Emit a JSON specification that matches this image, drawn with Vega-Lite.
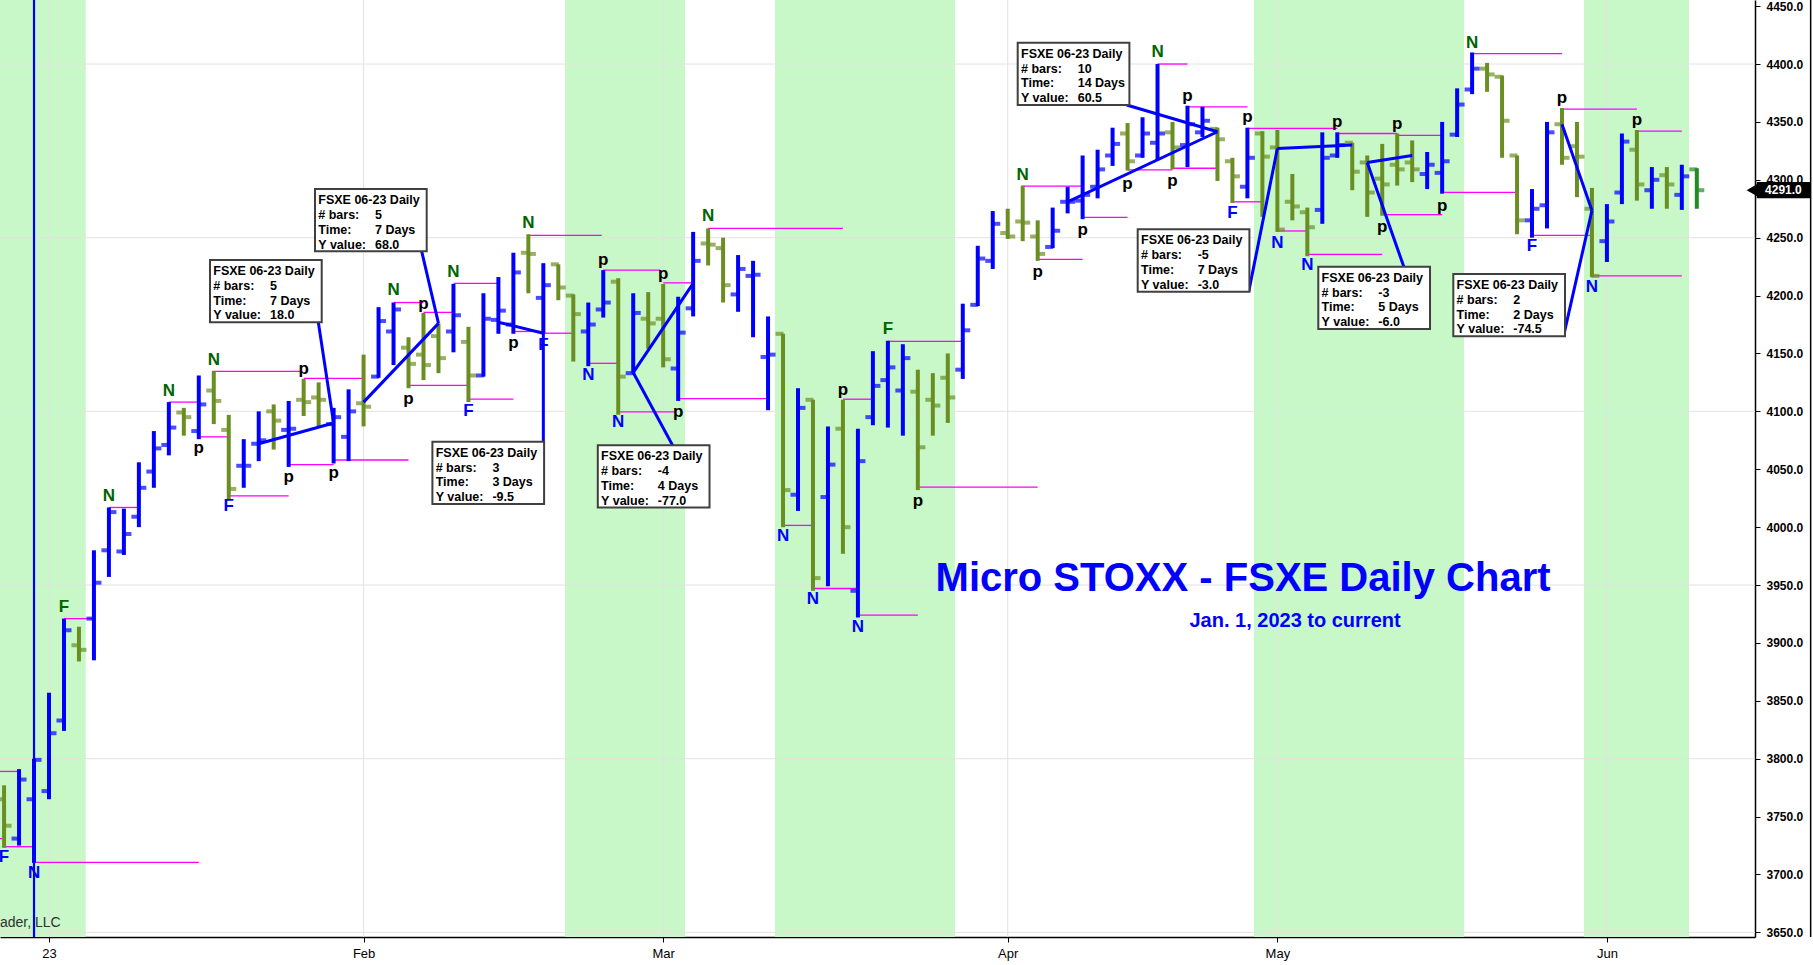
{
"$schema":"https://vega.github.io/schema/vega-lite/v6.json",
"width":1755,"height":937,
"autosize":{"type":"none"},
"padding":{"left":0,"top":0,"right":58,"bottom":28},
"background":"white",
"config":{"view":{"stroke":null},"font":"Liberation Sans",
 "axis":{"grid":false,"domainColor":"#000000","domainWidth":1.5,"tickColor":"#000000","tickSize":5,"labelFont":"Liberation Sans","labelColor":"#000000","labelFlush":false,"labelOverlap":false},
 "axisX":{"labelFontSize":13,"labelPadding":5},
 "axisY":{"labelFontSize":12,"labelFontWeight":"bold","labelPadding":6}},
"resolve":{"scale":{"color":"independent"}},
"datasets":{
"bars":[
{"i":-3,"o":3765,"h":3777,"l":3723,"c":3742,"t":"dn"},
{"i":-2,"o":3731,"h":3791,"l":3725,"c":3782,"t":"up"},
{"i":-1,"o":3765,"h":3800,"l":3710,"c":3799,"t":"up"},
{"i":0,"o":3772,"h":3857,"l":3765,"c":3822,"t":"up"},
{"i":1,"o":3833,"h":3921,"l":3824,"c":3911,"t":"up"},
{"i":2,"o":3898,"h":3914,"l":3884,"c":3894,"t":"dn"},
{"i":3,"o":3921,"h":3980,"l":3885,"c":3952,"t":"up"},
{"i":4,"o":3980,"h":4017,"l":3957,"c":4013,"t":"up"},
{"i":5,"o":3979,"h":4016,"l":3976,"c":3994,"t":"up"},
{"i":6,"o":4009,"h":4056,"l":4000,"c":4034,"t":"up"},
{"i":7,"o":4048,"h":4083,"l":4034,"c":4068,"t":"up"},
{"i":8,"o":4071,"h":4108,"l":4062,"c":4086,"t":"up"},
{"i":9,"o":4099,"h":4103,"l":4079,"c":4095,"t":"dn"},
{"i":10,"o":4083,"h":4131,"l":4076,"c":4106,"t":"up"},
{"i":11,"o":4118,"h":4135,"l":4089,"c":4109,"t":"dn"},
{"i":12,"o":4084,"h":4097,"l":4024,"c":4033,"t":"dn"},
{"i":13,"o":4053,"h":4076,"l":4034,"c":4053,"t":"up"},
{"i":14,"o":4072,"h":4100,"l":4057,"c":4075,"t":"up"},
{"i":15,"o":4100,"h":4106,"l":4067,"c":4092,"t":"dn"},
{"i":16,"o":4084,"h":4109,"l":4052,"c":4085,"t":"up"},
{"i":17,"o":4110,"h":4128,"l":4096,"c":4108,"t":"dn"},
{"i":18,"o":4112,"h":4125,"l":4087,"c":4110,"t":"dn"},
{"i":19,"o":4089,"h":4103,"l":4055,"c":4095,"t":"up"},
{"i":20,"o":4078,"h":4119,"l":4057,"c":4100,"t":"up"},
{"i":21,"o":4107,"h":4149,"l":4087,"c":4104,"t":"dn"},
{"i":22,"o":4130,"h":4190,"l":4129,"c":4178,"t":"up"},
{"i":23,"o":4169,"h":4194,"l":4140,"c":4188,"t":"up"},
{"i":24,"o":4155,"h":4164,"l":4120,"c":4141,"t":"dn"},
{"i":25,"o":4149,"h":4185,"l":4127,"c":4140,"t":"dn"},
{"i":26,"o":4165,"h":4176,"l":4133,"c":4146,"t":"dn"},
{"i":27,"o":4169,"h":4210,"l":4151,"c":4183,"t":"up"},
{"i":28,"o":4160,"h":4173,"l":4108,"c":4131,"t":"dn"},
{"i":29,"o":4131,"h":4202,"l":4130,"c":4180,"t":"up"},
{"i":30,"o":4179,"h":4216,"l":4167,"c":4187,"t":"up"},
{"i":31,"o":4175,"h":4237,"l":4167,"c":4220,"t":"up"},
{"i":32,"o":4237,"h":4253,"l":4202,"c":4236,"t":"dn"},
{"i":33,"o":4198,"h":4228,"l":4167,"c":4209,"t":"up"},
{"i":34,"o":4227,"h":4227,"l":4196,"c":4207,"t":"dn"},
{"i":35,"o":4200,"h":4201,"l":4143,"c":4184,"t":"dn"},
{"i":36,"o":4169,"h":4194,"l":4139,"c":4175,"t":"up"},
{"i":37,"o":4188,"h":4222,"l":4181,"c":4194,"t":"up"},
{"i":38,"o":4212,"h":4215,"l":4097,"c":4130,"t":"dn"},
{"i":39,"o":4133,"h":4202,"l":4133,"c":4185,"t":"up"},
{"i":40,"o":4180,"h":4203,"l":4154,"c":4176,"t":"dn"},
{"i":41,"o":4180,"h":4210,"l":4138,"c":4145,"t":"dn"},
{"i":42,"o":4137,"h":4199,"l":4109,"c":4168,"t":"up"},
{"i":43,"o":4189,"h":4255,"l":4182,"c":4230,"t":"up"},
{"i":44,"o":4245,"h":4258,"l":4226,"c":4244,"t":"dn"},
{"i":45,"o":4241,"h":4250,"l":4194,"c":4209,"t":"dn"},
{"i":46,"o":4201,"h":4235,"l":4186,"c":4223,"t":"up"},
{"i":47,"o":4217,"h":4230,"l":4164,"c":4218,"t":"up"},
{"i":48,"o":4147,"h":4182,"l":4101,"c":4149,"t":"up"},
{"i":49,"o":4167,"h":4167,"l":4000,"c":4032,"t":"dn"},
{"i":50,"o":4028,"h":4120,"l":4014,"c":4103,"t":"up"},
{"i":51,"o":4110,"h":4110,"l":3945,"c":3956,"t":"dn"},
{"i":52,"o":4026,"h":4087,"l":3949,"c":4054,"t":"up"},
{"i":53,"o":4085,"h":4110,"l":3977,"c":4000,"t":"dn"},
{"i":54,"o":3945,"h":4085,"l":3922,"c":4057,"t":"up"},
{"i":55,"o":4095,"h":4152,"l":4088,"c":4122,"t":"up"},
{"i":56,"o":4127,"h":4161,"l":4086,"c":4138,"t":"up"},
{"i":57,"o":4118,"h":4158,"l":4079,"c":4146,"t":"up"},
{"i":58,"o":4117,"h":4136,"l":4032,"c":4069,"t":"dn"},
{"i":59,"o":4110,"h":4133,"l":4079,"c":4105,"t":"dn"},
{"i":60,"o":4129,"h":4150,"l":4090,"c":4112,"t":"dn"},
{"i":61,"o":4136,"h":4193,"l":4128,"c":4170,"t":"up"},
{"i":62,"o":4192,"h":4243,"l":4191,"c":4232,"t":"up"},
{"i":63,"o":4230,"h":4273,"l":4223,"c":4262,"t":"up"},
{"i":64,"o":4254,"h":4275,"l":4249,"c":4251,"t":"dn"},
{"i":65,"o":4264,"h":4295,"l":4247,"c":4263,"t":"dn"},
{"i":66,"o":4251,"h":4265,"l":4230,"c":4236,"t":"dn"},
{"i":67,"o":4242,"h":4276,"l":4241,"c":4256,"t":"up"},
{"i":68,"o":4281,"h":4294,"l":4271,"c":4281,"t":"up"},
{"i":69,"o":4282,"h":4321,"l":4266,"c":4287,"t":"up"},
{"i":70,"o":4294,"h":4326,"l":4284,"c":4309,"t":"up"},
{"i":71,"o":4321,"h":4345,"l":4312,"c":4331,"t":"up"},
{"i":72,"o":4340,"h":4349,"l":4308,"c":4316,"t":"dn"},
{"i":73,"o":4321,"h":4354,"l":4319,"c":4340,"t":"up"},
{"i":74,"o":4332,"h":4400,"l":4317,"c":4340,"t":"up"},
{"i":75,"o":4341,"h":4350,"l":4309,"c":4328,"t":"dn"},
{"i":76,"o":4330,"h":4364,"l":4311,"c":4348,"t":"up"},
{"i":77,"o":4341,"h":4363,"l":4337,"c":4351,"t":"up"},
{"i":78,"o":4344,"h":4345,"l":4299,"c":4335,"t":"dn"},
{"i":79,"o":4316,"h":4319,"l":4280,"c":4303,"t":"dn"},
{"i":80,"o":4294,"h":4345,"l":4284,"c":4319,"t":"up"},
{"i":81,"o":4340,"h":4342,"l":4268,"c":4320,"t":"dn"},
{"i":82,"o":4328,"h":4343,"l":4255,"c":4257,"t":"dn"},
{"i":83,"o":4281,"h":4305,"l":4265,"c":4277,"t":"dn"},
{"i":84,"o":4272,"h":4276,"l":4234,"c":4259,"t":"dn"},
{"i":85,"o":4274,"h":4341,"l":4262,"c":4319,"t":"up"},
{"i":86,"o":4321,"h":4341,"l":4319,"c":4330,"t":"up"},
{"i":87,"o":4332,"h":4332,"l":4291,"c":4307,"t":"dn"},
{"i":88,"o":4315,"h":4321,"l":4268,"c":4289,"t":"dn"},
{"i":89,"o":4301,"h":4331,"l":4269,"c":4296,"t":"dn"},
{"i":90,"o":4313,"h":4340,"l":4295,"c":4309,"t":"dn"},
{"i":91,"o":4315,"h":4334,"l":4298,"c":4309,"t":"dn"},
{"i":92,"o":4305,"h":4324,"l":4292,"c":4313,"t":"up"},
{"i":93,"o":4306,"h":4350,"l":4288,"c":4316,"t":"up"},
{"i":94,"o":4339,"h":4379,"l":4337,"c":4365,"t":"up"},
{"i":95,"o":4378,"h":4410,"l":4374,"c":4396,"t":"up"},
{"i":96,"o":4396,"h":4401,"l":4376,"c":4391,"t":"dn"},
{"i":97,"o":4389,"h":4390,"l":4319,"c":4351,"t":"dn"},
{"i":98,"o":4321,"h":4321,"l":4253,"c":4265,"t":"dn"},
{"i":99,"o":4265,"h":4292,"l":4250,"c":4275,"t":"up"},
{"i":100,"o":4278,"h":4350,"l":4258,"c":4341,"t":"up"},
{"i":101,"o":4348,"h":4362,"l":4313,"c":4319,"t":"dn"},
{"i":102,"o":4329,"h":4350,"l":4285,"c":4320,"t":"dn"},
{"i":103,"o":4275,"h":4293,"l":4216,"c":4217,"t":"dn"},
{"i":104,"o":4247,"h":4279,"l":4229,"c":4264,"t":"up"},
{"i":105,"o":4289,"h":4340,"l":4279,"c":4333,"t":"up"},
{"i":106,"o":4326,"h":4343,"l":4282,"c":4296,"t":"dn"},
{"i":107,"o":4291,"h":4311,"l":4275,"c":4300,"t":"up"},
{"i":108,"o":4304,"h":4311,"l":4275,"c":4296,"t":"dn"},
{"i":109,"o":4287,"h":4313,"l":4274,"c":4303,"t":"up"},
{"i":110,"o":4309,"h":4310,"l":4275,"c":4291,"t":"last"}
],
"mag":[
{"a":-3.27,"b":-2,"v":3789},{"a":-3.27,"b":-3,"v":3731},{"a":-3,"b":-1,"v":3724},{"a":-1,"b":10,"v":3710.5},
{"a":1,"b":3,"v":3921},{"a":4,"b":6,"v":4017},{"a":8,"b":10,"v":4108},{"a":10,"b":12,"v":4078},
{"a":11,"b":16.8,"v":4134.5},{"a":12,"b":16,"v":4027},{"a":16,"b":19,"v":4054},{"a":17,"b":21,"v":4128.5},
{"a":19,"b":24,"v":4058},{"a":24,"b":28,"v":4122.5},{"a":23,"b":25,"v":4194},{"a":25,"b":27,"v":4185.5},
{"a":27,"b":30,"v":4210.5},{"a":28,"b":31,"v":4110.5},{"a":31,"b":33,"v":4169},{"a":33,"b":35,"v":4167.5},
{"a":32,"b":36.9,"v":4252},{"a":36,"b":38,"v":4141.5},{"a":37,"b":40.8,"v":4222},{"a":38,"b":41.8,"v":4099.5},
{"a":41,"b":43,"v":4211},{"a":42,"b":48,"v":4111},{"a":44,"b":53,"v":4258},{"a":49,"b":51,"v":4001.5},
{"a":51,"b":54,"v":3947},{"a":53,"b":55,"v":4110.5},{"a":54,"b":58,"v":3924},{"a":56,"b":61,"v":4160.5},
{"a":58,"b":66,"v":4034.5},{"a":65,"b":69,"v":4294.6},{"a":66,"b":69,"v":4231.3},{"a":69,"b":72,"v":4267.6},
{"a":72,"b":75,"v":4308.5},{"a":74,"b":76,"v":4400},{"a":75,"b":78,"v":4310},{"a":76,"b":80,"v":4363},
{"a":79,"b":81,"v":4281},{"a":80,"b":86,"v":4344.5},{"a":82,"b":84,"v":4255.8},{"a":84,"b":89,"v":4235.6},
{"a":86,"b":90,"v":4340},{"a":89,"b":93,"v":4270},{"a":90,"b":93,"v":4338.4},{"a":93,"b":98,"v":4289.2},
{"a":95,"b":101,"v":4409},{"a":99,"b":103,"v":4252},{"a":101,"b":106,"v":4361},{"a":103,"b":109,"v":4217},
{"a":106,"b":109,"v":4342}
],
"labels":[
{"i":-3,"v":3715,"t":"F","k":"lo"},{"i":-1,"v":3701,"t":"N","k":"lo"},{"i":1,"v":3931,"t":"F","k":"hi"},
{"i":4,"v":4027,"t":"N","k":"hi"},{"i":8,"v":4118,"t":"N","k":"hi"},{"i":10,"v":4068,"t":"p","k":"p"},
{"i":11,"v":4144,"t":"N","k":"hi"},{"i":12,"v":4018,"t":"F","k":"lo"},{"i":16,"v":4043.5,"t":"p","k":"p"},
{"i":17,"v":4137,"t":"p","k":"p"},{"i":19,"v":4047,"t":"p","k":"p"},{"i":23,"v":4205,"t":"N","k":"hi"},
{"i":24,"v":4111,"t":"p","k":"p"},{"i":25,"v":4193,"t":"p","k":"p"},{"i":27,"v":4220.5,"t":"N","k":"hi"},
{"i":28,"v":4100.5,"t":"F","k":"lo"},{"i":31,"v":4159,"t":"p","k":"p"},{"i":32,"v":4262.5,"t":"N","k":"hi"},
{"i":33,"v":4157,"t":"F","k":"lo"},{"i":36,"v":4131.5,"t":"N","k":"lo"},{"i":37,"v":4230.5,"t":"p","k":"p"},
{"i":38,"v":4091,"t":"N","k":"lo"},{"i":41,"v":4219,"t":"p","k":"p"},{"i":42,"v":4099.5,"t":"p","k":"p"},
{"i":44,"v":4268.5,"t":"N","k":"hi"},{"i":49,"v":3992,"t":"N","k":"lo"},{"i":51,"v":3938,"t":"N","k":"lo"},
{"i":53,"v":4118.5,"t":"p","k":"p"},{"i":54,"v":3914,"t":"N","k":"lo"},{"i":56,"v":4171,"t":"F","k":"hi"},
{"i":58,"v":4023,"t":"p","k":"p"},{"i":65,"v":4304,"t":"N","k":"hi"},{"i":66,"v":4220,"t":"p","k":"p"},
{"i":69,"v":4256.5,"t":"p","k":"p"},{"i":72,"v":4296.5,"t":"p","k":"p"},{"i":74,"v":4410,"t":"N","k":"hi"},
{"i":75,"v":4299,"t":"p","k":"p"},{"i":76,"v":4372,"t":"p","k":"p"},{"i":79,"v":4271.5,"t":"F","k":"lo"},
{"i":80,"v":4354,"t":"p","k":"p"},{"i":82,"v":4245,"t":"N","k":"lo"},{"i":84,"v":4226.5,"t":"N","k":"lo"},
{"i":86,"v":4350,"t":"p","k":"p"},{"i":89,"v":4259,"t":"p","k":"p"},{"i":90,"v":4348,"t":"p","k":"p"},
{"i":93,"v":4277.5,"t":"p","k":"p"},{"i":95,"v":4418.5,"t":"N","k":"hi"},{"i":99,"v":4243,"t":"F","k":"lo"},
{"i":101,"v":4370.5,"t":"p","k":"p"},{"i":103,"v":4207.5,"t":"N","k":"lo"},{"i":106,"v":4352,"t":"p","k":"p"}
],
"lines":[
{"a":14,"y":4072,"b":19,"y2":4090},{"a":21,"y":4108,"b":26,"y2":4176},{"a":30,"y":4177,"b":33,"y2":4167.5},
{"a":39,"y":4133.5,"b":43,"y2":4210.5},{"a":68,"y":4281,"b":78,"y2":4341.5},{"a":82,"y":4327,"b":87,"y2":4330},
{"a":88,"y":4315,"b":91,"y2":4321},{"a":101,"y":4348,"b":103,"y2":4273.5},
{"a":17.98,"y":4176.9,"b":19,"y2":4090},{"a":24.88,"y":4238.2,"b":26,"y2":4176},{"a":33,"y":4167.5,"b":33,"y2":4020},
{"a":39,"y":4133.5,"b":43.85,"y2":4017.5},{"a":71.94,"y":4364.6,"b":78,"y2":4341.5},{"a":82,"y":4327,"b":80.09,"y2":4203.4},
{"a":88,"y":4315,"b":91.9,"y2":4171.1},{"a":103,"y":4273.5,"b":101.1,"y2":4164.8}
],
"boxes":[
{"L":10.748,"R":18.205,"T":4230.7,"B":4176.9,"tx":10.968,"vx":14.753,"ty":4217.7,"val":"\n5\n7 Days\n18.0"},
{"L":17.757,"R":25.214,"T":4292.0,"B":4238.2,"tx":17.977,"vx":21.762,"ty":4279.0,"val":"\n5\n7 Days\n68.0"},
{"L":25.594,"R":33.051,"T":4073.8,"B":4020.0,"tx":25.814,"vx":29.599,"ty":4060.8,"val":"\n3\n3 Days\n-9.5"},
{"L":36.636,"R":44.093,"T":4070.7,"B":4016.9,"tx":36.856,"vx":40.641,"ty":4057.7,"val":"\n-4\n4 Days\n-77.0"},
{"L":64.666,"R":72.123,"T":4418.4,"B":4364.6,"tx":64.886,"vx":68.671,"ty":4405.4,"val":"\n10\n14 Days\n60.5"},
{"L":72.677,"R":80.134,"T":4257.2,"B":4203.4,"tx":72.897,"vx":76.682,"ty":4244.2,"val":"\n-5\n7 Days\n-3.0"},
{"L":84.733,"R":92.19,"T":4224.9,"B":4171.1,"tx":84.953,"vx":88.738,"ty":4211.9,"val":"\n-3\n5 Days\n-6.0"},
{"L":93.745,"R":101.202,"T":4218.6,"B":4164.8,"tx":93.965,"vx":97.75,"ty":4205.6,"val":"\n2\n2 Days\n-74.5"}
]
},
"layer":[
{"data":{"values":[{"a":-3.271,"b":2.45},{"a":34.45,"b":42.46},{"a":48.46,"b":60.48},{"a":80.44,"b":94.46},{"a":102.47,"b":109.48}]},
 "mark":{"type":"rect","color":"#C8F7C8"},
 "encoding":{"x":{"field":"a","type":"quantitative","title":null,"scale":{"domain":[-3.271,113.885],"nice":false,"zero":false},"axis":{"orient":"bottom","values":[0,21,41,64,82,104],"labelExpr":"datum.value==0?'23':datum.value==21?'Feb':datum.value==41?'Mar':datum.value==64?'Apr':datum.value==82?'May':'Jun'"}},"x2":{"field":"b"}}},
{"data":{"values":[{"v":3650},{"v":3800},{"v":3950},{"v":4100},{"v":4250},{"v":4400}]},
 "mark":{"type":"rule","color":"#E2E2E2","strokeWidth":1},
 "encoding":{"y":{"field":"v","type":"quantitative","title":null,"scale":{"domain":[3646,4455.3],"nice":false,"zero":false},"axis":{"orient":"right","values":[3650,3700,3750,3800,3850,3900,3950,4000,4050,4100,4150,4200,4250,4300,4350,4400,4450],"format":".1f"}}}},
{"data":{"values":[{"v":0},{"v":21},{"v":41},{"v":64},{"v":82},{"v":104}]},
 "mark":{"type":"rule","color":"#E2E2E2","strokeWidth":1},
 "encoding":{"x":{"field":"v","type":"quantitative","title":null,"scale":{"domain":[-3.271,113.885],"nice":false,"zero":false},"axis":{"orient":"bottom","values":[0,21,41,64,82,104],"labelExpr":"datum.value==0?'23':datum.value==21?'Feb':datum.value==41?'Mar':datum.value==64?'Apr':datum.value==82?'May':'Jun'"}}}},
{"data":{"name":"mag"},
 "mark":{"type":"rule","color":"#FF00FF","strokeWidth":1.3},
 "encoding":{"x":{"field":"a","type":"quantitative","title":null,"scale":{"domain":[-3.271,113.885],"nice":false,"zero":false},"axis":{"orient":"bottom","values":[0,21,41,64,82,104],"labelExpr":"datum.value==0?'23':datum.value==21?'Feb':datum.value==41?'Mar':datum.value==64?'Apr':datum.value==82?'May':'Jun'"}},"x2":{"field":"b"},
  "y":{"field":"v","type":"quantitative","title":null,"scale":{"domain":[3646,4455.3],"nice":false,"zero":false},"axis":{"orient":"right","values":[3650,3700,3750,3800,3850,3900,3950,4000,4050,4100,4150,4200,4250,4300,4350,4400,4450],"format":".1f"}}}},
{"data":{"name":"bars"},
 "mark":{"type":"rule","strokeWidth":4},
 "encoding":{
  "x":{"field":"i","type":"quantitative","title":null,"scale":{"domain":[-3.271,113.885],"nice":false,"zero":false},"axis":{"orient":"bottom","values":[0,21,41,64,82,104],"labelExpr":"datum.value==0?'23':datum.value==21?'Feb':datum.value==41?'Mar':datum.value==64?'Apr':datum.value==82?'May':'Jun'"}},
  "y":{"field":"l","type":"quantitative","title":null,"scale":{"domain":[3646,4455.3],"nice":false,"zero":false},"axis":{"orient":"right","values":[3650,3700,3750,3800,3850,3900,3950,4000,4050,4100,4150,4200,4250,4300,4350,4400,4450],"format":".1f"}},
  "y2":{"field":"h"},
  "color":{"field":"t","type":"nominal","scale":{"domain":["up","dn","last"],"range":["#0000FF","#6B8E23","#228B22"]},"legend":null}}},
{"data":{"name":"bars"},
 "mark":{"type":"tick","orient":"horizontal","size":8,"thickness":4,"xOffset":-3.5},
 "encoding":{"x":{"field":"i","type":"quantitative","title":null,"scale":{"domain":[-3.271,113.885],"nice":false,"zero":false},"axis":{"orient":"bottom","values":[0,21,41,64,82,104],"labelExpr":"datum.value==0?'23':datum.value==21?'Feb':datum.value==41?'Mar':datum.value==64?'Apr':datum.value==82?'May':'Jun'"}},
  "y":{"field":"o","type":"quantitative","title":null,"scale":{"domain":[3646,4455.3],"nice":false,"zero":false},"axis":{"orient":"right","values":[3650,3700,3750,3800,3850,3900,3950,4000,4050,4100,4150,4200,4250,4300,4350,4400,4450],"format":".1f"}},
  "color":{"field":"t","type":"nominal","scale":{"domain":["up","dn","last"],"range":["#0000FF","#6B8E23","#228B22"]},"legend":null}}},
{"data":{"name":"bars"},
 "mark":{"type":"tick","orient":"horizontal","size":8,"thickness":4,"xOffset":3.5},
 "encoding":{"x":{"field":"i","type":"quantitative","title":null,"scale":{"domain":[-3.271,113.885],"nice":false,"zero":false},"axis":{"orient":"bottom","values":[0,21,41,64,82,104],"labelExpr":"datum.value==0?'23':datum.value==21?'Feb':datum.value==41?'Mar':datum.value==64?'Apr':datum.value==82?'May':'Jun'"}},
  "y":{"field":"c","type":"quantitative","title":null,"scale":{"domain":[3646,4455.3],"nice":false,"zero":false},"axis":{"orient":"right","values":[3650,3700,3750,3800,3850,3900,3950,4000,4050,4100,4150,4200,4250,4300,4350,4400,4450],"format":".1f"}},
  "color":{"field":"t","type":"nominal","scale":{"domain":["up","dn","last"],"range":["#0000FF","#6B8E23","#228B22"]},"legend":null}}},
{"data":{"values":[{"v":-1}]},
 "mark":{"type":"rule","color":"#0000FF","strokeWidth":2.2},
 "encoding":{"x":{"field":"v","type":"quantitative","title":null,"scale":{"domain":[-3.271,113.885],"nice":false,"zero":false},"axis":{"orient":"bottom","values":[0,21,41,64,82,104],"labelExpr":"datum.value==0?'23':datum.value==21?'Feb':datum.value==41?'Mar':datum.value==64?'Apr':datum.value==82?'May':'Jun'"}}}},
{"data":{"name":"lines"},
 "mark":{"type":"rule","color":"#0000FF","strokeWidth":3},
 "encoding":{"x":{"field":"a","type":"quantitative","title":null,"scale":{"domain":[-3.271,113.885],"nice":false,"zero":false},"axis":{"orient":"bottom","values":[0,21,41,64,82,104],"labelExpr":"datum.value==0?'23':datum.value==21?'Feb':datum.value==41?'Mar':datum.value==64?'Apr':datum.value==82?'May':'Jun'"}},"x2":{"field":"b"},
  "y":{"field":"y","type":"quantitative","title":null,"scale":{"domain":[3646,4455.3],"nice":false,"zero":false},"axis":{"orient":"right","values":[3650,3700,3750,3800,3850,3900,3950,4000,4050,4100,4150,4200,4250,4300,4350,4400,4450],"format":".1f"}},"y2":{"field":"y2"}}},
{"data":{"name":"labels"},
 "mark":{"type":"text","font":"Liberation Sans","fontSize":17,"fontWeight":"bold","align":"center","baseline":"middle"},
 "encoding":{"x":{"field":"i","type":"quantitative","title":null,"scale":{"domain":[-3.271,113.885],"nice":false,"zero":false},"axis":{"orient":"bottom","values":[0,21,41,64,82,104],"labelExpr":"datum.value==0?'23':datum.value==21?'Feb':datum.value==41?'Mar':datum.value==64?'Apr':datum.value==82?'May':'Jun'"}},
  "y":{"field":"v","type":"quantitative","title":null,"scale":{"domain":[3646,4455.3],"nice":false,"zero":false},"axis":{"orient":"right","values":[3650,3700,3750,3800,3850,3900,3950,4000,4050,4100,4150,4200,4250,4300,4350,4400,4450],"format":".1f"}},
  "text":{"field":"t","type":"nominal"},
  "color":{"field":"k","type":"nominal","scale":{"domain":["hi","lo","p"],"range":["#006400","#0000FF","#000000"]},"legend":null}}},
{"data":{"name":"boxes"},
 "mark":{"type":"rect","fill":"#FFFFFF","stroke":"#404040","strokeWidth":2},
 "encoding":{"x":{"field":"L","type":"quantitative","title":null,"scale":{"domain":[-3.271,113.885],"nice":false,"zero":false},"axis":{"orient":"bottom","values":[0,21,41,64,82,104],"labelExpr":"datum.value==0?'23':datum.value==21?'Feb':datum.value==41?'Mar':datum.value==64?'Apr':datum.value==82?'May':'Jun'"}},"x2":{"field":"R"},
  "y":{"field":"T","type":"quantitative","title":null,"scale":{"domain":[3646,4455.3],"nice":false,"zero":false},"axis":{"orient":"right","values":[3650,3700,3750,3800,3850,3900,3950,4000,4050,4100,4150,4200,4250,4300,4350,4400,4450],"format":".1f"}},"y2":{"field":"B"}}},
{"data":{"name":"boxes"},
 "mark":{"type":"text","font":"Liberation Sans","fontSize":12.5,"fontWeight":"bold","align":"left","baseline":"alphabetic","lineBreak":"\n","lineHeight":14.8,"color":"#000000","text":"FSXE 06-23 Daily\n# bars:\nTime:\nY value:"},
 "encoding":{"x":{"field":"tx","type":"quantitative","title":null,"scale":{"domain":[-3.271,113.885],"nice":false,"zero":false},"axis":{"orient":"bottom","values":[0,21,41,64,82,104],"labelExpr":"datum.value==0?'23':datum.value==21?'Feb':datum.value==41?'Mar':datum.value==64?'Apr':datum.value==82?'May':'Jun'"}},
  "y":{"field":"ty","type":"quantitative","title":null,"scale":{"domain":[3646,4455.3],"nice":false,"zero":false},"axis":{"orient":"right","values":[3650,3700,3750,3800,3850,3900,3950,4000,4050,4100,4150,4200,4250,4300,4350,4400,4450],"format":".1f"}}}},
{"data":{"name":"boxes"},
 "mark":{"type":"text","font":"Liberation Sans","fontSize":12.5,"fontWeight":"bold","align":"left","baseline":"alphabetic","lineBreak":"\n","lineHeight":14.8,"color":"#000000"},
 "encoding":{"x":{"field":"vx","type":"quantitative","title":null,"scale":{"domain":[-3.271,113.885],"nice":false,"zero":false},"axis":{"orient":"bottom","values":[0,21,41,64,82,104],"labelExpr":"datum.value==0?'23':datum.value==21?'Feb':datum.value==41?'Mar':datum.value==64?'Apr':datum.value==82?'May':'Jun'"}},
  "y":{"field":"ty","type":"quantitative","title":null,"scale":{"domain":[3646,4455.3],"nice":false,"zero":false},"axis":{"orient":"right","values":[3650,3700,3750,3800,3850,3900,3950,4000,4050,4100,4150,4200,4250,4300,4350,4400,4450],"format":".1f"}},
  "text":{"field":"val","type":"nominal"}}},
{"data":{"values":[{"x":79.71,"y":3945,"t":"Micro STOXX - FSXE Daily Chart"}]},
 "mark":{"type":"text","font":"Liberation Sans","fontSize":40,"fontWeight":"bold","align":"center","baseline":"alphabetic","color":"#0000FF"},
 "encoding":{"x":{"field":"x","type":"quantitative","title":null,"scale":{"domain":[-3.271,113.885],"nice":false,"zero":false},"axis":{"orient":"bottom","values":[0,21,41,64,82,104],"labelExpr":"datum.value==0?'23':datum.value==21?'Feb':datum.value==41?'Mar':datum.value==64?'Apr':datum.value==82?'May':'Jun'"}},
  "y":{"field":"y","type":"quantitative","title":null,"scale":{"domain":[3646,4455.3],"nice":false,"zero":false},"axis":{"orient":"right","values":[3650,3700,3750,3800,3850,3900,3950,4000,4050,4100,4150,4200,4250,4300,4350,4400,4450],"format":".1f"}},
  "text":{"field":"t","type":"nominal"}}},
{"data":{"values":[{"x":83.18,"y":3914,"t":"Jan. 1, 2023 to current"}]},
 "mark":{"type":"text","font":"Liberation Sans","fontSize":20,"fontWeight":"bold","align":"center","baseline":"alphabetic","color":"#0000FF"},
 "encoding":{"x":{"field":"x","type":"quantitative","title":null,"scale":{"domain":[-3.271,113.885],"nice":false,"zero":false},"axis":{"orient":"bottom","values":[0,21,41,64,82,104],"labelExpr":"datum.value==0?'23':datum.value==21?'Feb':datum.value==41?'Mar':datum.value==64?'Apr':datum.value==82?'May':'Jun'"}},
  "y":{"field":"y","type":"quantitative","title":null,"scale":{"domain":[3646,4455.3],"nice":false,"zero":false},"axis":{"orient":"right","values":[3650,3700,3750,3800,3850,3900,3950,4000,4050,4100,4150,4200,4250,4300,4350,4400,4450],"format":".1f"}},
  "text":{"field":"t","type":"nominal"}}},
{"data":{"values":[{"x":-3.271,"y":3654.6,"t":"ader, LLC"}]},
 "mark":{"type":"text","font":"Liberation Sans","fontSize":14,"align":"left","baseline":"alphabetic","color":"#303030"},
 "encoding":{"x":{"field":"x","type":"quantitative","title":null,"scale":{"domain":[-3.271,113.885],"nice":false,"zero":false},"axis":{"orient":"bottom","values":[0,21,41,64,82,104],"labelExpr":"datum.value==0?'23':datum.value==21?'Feb':datum.value==41?'Mar':datum.value==64?'Apr':datum.value==82?'May':'Jun'"}},
  "y":{"field":"y","type":"quantitative","title":null,"scale":{"domain":[3646,4455.3],"nice":false,"zero":false},"axis":{"orient":"right","values":[3650,3700,3750,3800,3850,3900,3950,4000,4050,4100,4150,4200,4250,4300,4350,4400,4450],"format":".1f"}},
  "text":{"field":"t","type":"nominal"}}},
{"data":{"values":[{"a":114.0,"b":117.56,"y":4284,"y2":4298}]},
 "mark":{"type":"rect","color":"#000000"},
 "encoding":{"x":{"field":"a","type":"quantitative","title":null,"scale":{"domain":[-3.271,113.885],"nice":false,"zero":false},"axis":{"orient":"bottom","values":[0,21,41,64,82,104],"labelExpr":"datum.value==0?'23':datum.value==21?'Feb':datum.value==41?'Mar':datum.value==64?'Apr':datum.value==82?'May':'Jun'"}},"x2":{"field":"b"},
  "y":{"field":"y","type":"quantitative","title":null,"scale":{"domain":[3646,4455.3],"nice":false,"zero":false},"axis":{"orient":"right","values":[3650,3700,3750,3800,3850,3900,3950,4000,4050,4100,4150,4200,4250,4300,4350,4400,4450],"format":".1f"}},"y2":{"field":"y2"}}},
{"data":{"values":[{"x":113.68,"y":4291}]},
 "mark":{"type":"point","shape":"triangle-left","filled":true,"color":"#000000","size":150,"opacity":1},
 "encoding":{"x":{"field":"x","type":"quantitative","title":null,"scale":{"domain":[-3.271,113.885],"nice":false,"zero":false},"axis":{"orient":"bottom","values":[0,21,41,64,82,104],"labelExpr":"datum.value==0?'23':datum.value==21?'Feb':datum.value==41?'Mar':datum.value==64?'Apr':datum.value==82?'May':'Jun'"}},
  "y":{"field":"y","type":"quantitative","title":null,"scale":{"domain":[3646,4455.3],"nice":false,"zero":false},"axis":{"orient":"right","values":[3650,3700,3750,3800,3850,3900,3950,4000,4050,4100,4150,4200,4250,4300,4350,4400,4450],"format":".1f"}}}},
{"data":{"values":[{"x":115.78,"y":4291,"t":"4291.0"}]},
 "mark":{"type":"text","font":"Liberation Sans","fontSize":12,"fontWeight":"bold","align":"center","baseline":"middle","color":"#FFFFFF"},
 "encoding":{"x":{"field":"x","type":"quantitative","title":null,"scale":{"domain":[-3.271,113.885],"nice":false,"zero":false},"axis":{"orient":"bottom","values":[0,21,41,64,82,104],"labelExpr":"datum.value==0?'23':datum.value==21?'Feb':datum.value==41?'Mar':datum.value==64?'Apr':datum.value==82?'May':'Jun'"}},
  "y":{"field":"y","type":"quantitative","title":null,"scale":{"domain":[3646,4455.3],"nice":false,"zero":false},"axis":{"orient":"right","values":[3650,3700,3750,3800,3850,3900,3950,4000,4050,4100,4150,4200,4250,4300,4350,4400,4450],"format":".1f"}},
  "text":{"field":"t","type":"nominal"}}},
{"data":{"values":[{"v":117.6}]},
 "mark":{"type":"rule","color":"#000000","strokeWidth":1.5},
 "encoding":{"x":{"field":"v","type":"quantitative","title":null,"scale":{"domain":[-3.271,113.885],"nice":false,"zero":false},"axis":{"orient":"bottom","values":[0,21,41,64,82,104],"labelExpr":"datum.value==0?'23':datum.value==21?'Feb':datum.value==41?'Mar':datum.value==64?'Apr':datum.value==82?'May':'Jun'"}}}}
]
}
